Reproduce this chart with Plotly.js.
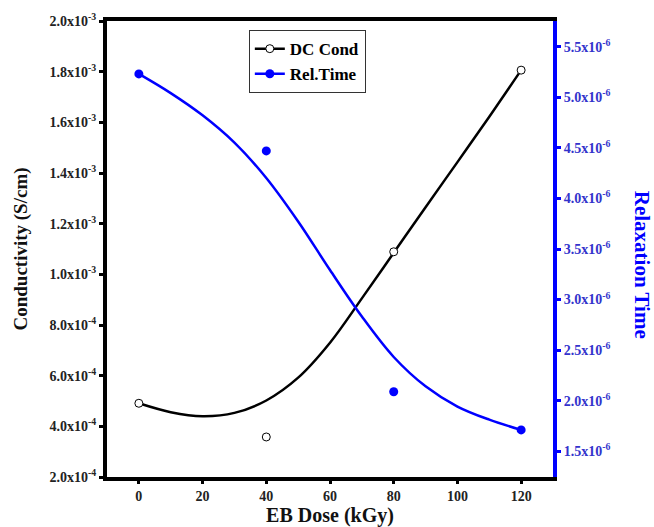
<!DOCTYPE html>
<html>
<head>
<meta charset="utf-8">
<script src="https://cdn.plot.ly/plotly-3.0.1.min.js"></script>
<style>html,body{margin:0;padding:0;background:#fff;}#chart{width:654px;height:527px;}</style>
</head>
<body>
<div id="chart"></div>
<script>
// Measured data points
const doseX = [0, 40, 80, 120];
const dcCond = [4.91e-4, 3.58e-4, 1.089e-3, 1.806e-3];
const relTime = [5.232e-6, 4.47e-6, 2.088e-6, 1.711e-6];

// Fitted curves
const fitX = [0, 10, 20, 30, 40, 50, 60, 70, 80, 90, 100, 110, 120];
const dcFit = [4.91e-4, 4.56e-4, 4.40e-4, 4.53e-4, 5.02e-4, 5.92e-4, 7.30e-4, 9.05e-4, 1.085e-3, 1.265e-3, 1.443e-3, 1.622e-3, 1.806e-3];
const relFit = [5.232e-6, 5.042e-6, 4.822e-6, 4.552e-6, 4.202e-6, 3.772e-6, 3.292e-6, 2.832e-6, 2.432e-6, 2.142e-6, 1.942e-6, 1.812e-6, 1.711e-6];

// Tick labels
const xTicks = [0, 20, 40, 60, 80, 100, 120];
const yTickVals = [2.0e-4, 4.0e-4, 6.0e-4, 8.0e-4, 1.0e-3, 1.2e-3, 1.4e-3, 1.6e-3, 1.8e-3, 2.0e-3];
const yTickText = ['2.0x10<sup>-4</sup>', '4.0x10<sup>-4</sup>', '6.0x10<sup>-4</sup>', '8.0x10<sup>-4</sup>', '1.0x10<sup>-3</sup>', '1.2x10<sup>-3</sup>', '1.4x10<sup>-3</sup>', '1.6x10<sup>-3</sup>', '1.8x10<sup>-3</sup>', '2.0x10<sup>-3</sup>'];
const y2TickVals = [1.5e-6, 2.0e-6, 2.5e-6, 3.0e-6, 3.5e-6, 4.0e-6, 4.5e-6, 5.0e-6, 5.5e-6];
const y2TickText = ['1.5x10<sup>-6</sup>', '2.0x10<sup>-6</sup>', '2.5x10<sup>-6</sup>', '3.0x10<sup>-6</sup>', '3.5x10<sup>-6</sup>', '4.0x10<sup>-6</sup>', '4.5x10<sup>-6</sup>', '5.0x10<sup>-6</sup>', '5.5x10<sup>-6</sup>'];

const serif = 'Liberation Serif, Times New Roman, serif';
const BLUE = '#0000ff';

const traces = [
  {x: fitX, y: dcFit, mode: 'lines', line: {color: '#000', width: 2.5, shape: 'spline', smoothing: 1}, showlegend: false, hoverinfo: 'skip'},
  {x: fitX, y: relFit, yaxis: 'y2', mode: 'lines', line: {color: BLUE, width: 2.5, shape: 'spline', smoothing: 1}, showlegend: false, hoverinfo: 'skip'},
  {x: doseX, y: dcCond, mode: 'markers', marker: {symbol: 'circle', size: 8, color: '#fff', line: {color: '#000', width: 1}}, showlegend: false},
  {x: doseX, y: relTime, yaxis: 'y2', mode: 'markers', marker: {symbol: 'circle', size: 9, color: BLUE}, showlegend: false},
  // legend entries
  {x: [null], y: [null], name: 'DC Cond', mode: 'lines+markers', line: {color: '#000', width: 2.5}, marker: {symbol: 'circle', size: 8, color: '#fff', line: {color: '#000', width: 1}}},
  {x: [null], y: [null], yaxis: 'y2', name: 'Rel.Time', mode: 'lines+markers', line: {color: BLUE, width: 2.5}, marker: {symbol: 'circle', size: 9, color: BLUE}}
];

const layout = {
  width: 654, height: 527,
  margin: {l: 107, r: 101, t: 21, b: 50},
  paper_bgcolor: '#fff', plot_bgcolor: '#fff',
  showlegend: true,
  legend: {
    x: 0.318, y: 0.98, xanchor: 'left', yanchor: 'top',
    bordercolor: '#333', borderwidth: 1, bgcolor: '#fff',
    font: {family: serif, size: 17, color: '#000', weight: 'bold'},
    traceorder: 'normal'
  },
  xaxis: {
    range: [-10, 130], tickvals: xTicks, ticktext: xTicks.map(String),
    showgrid: false, zeroline: false,
    showline: true, linecolor: '#000', linewidth: 4, mirror: true,
    ticks: 'outside', ticklen: 3, tickwidth: 3, tickcolor: '#000',
    tickfont: {family: serif, size: 14, color: '#222', weight: 'bold'},
    title: {text: 'EB Dose (kGy)', font: {family: serif, size: 20, color: '#111', weight: 'bold'}, standoff: 0}
  },
  yaxis: {
    range: [2.0e-4, 2.0e-3], tickvals: yTickVals, ticktext: yTickText,
    showgrid: false, zeroline: false,
    showline: true, linecolor: '#000', linewidth: 4,
    ticks: 'outside', ticklen: 4, tickwidth: 3, tickcolor: '#000',
    tickfont: {family: serif, size: 14, color: '#222', weight: 'bold'},
    title: {text: 'Conductivity (S/cm)', font: {family: serif, size: 19, color: '#111', weight: 'bold'}, standoff: 18}
  },
  yaxis2: {
    overlaying: 'y', side: 'right',
    range: [1.245e-6, 5.755e-6], tickvals: y2TickVals, ticktext: y2TickText,
    showgrid: false, zeroline: false,
    showline: true, linecolor: BLUE, linewidth: 4,
    ticks: 'outside', ticklen: 4, tickwidth: 3, tickcolor: BLUE,
    tickfont: {family: serif, size: 14, color: '#3333cc', weight: 'bold'}
  },
  annotations: [
    {text: 'Relaxation Time', xref: 'paper', yref: 'paper', x: 1.2, y: 0.465, xanchor: 'center', yanchor: 'middle',
     textangle: 90, showarrow: false, font: {family: serif, size: 21, color: BLUE, weight: 'bold'}}
  ]
};

Plotly.newPlot('chart', traces, layout, {displayModeBar: false, staticPlot: true});
</script>
</body>
</html>
